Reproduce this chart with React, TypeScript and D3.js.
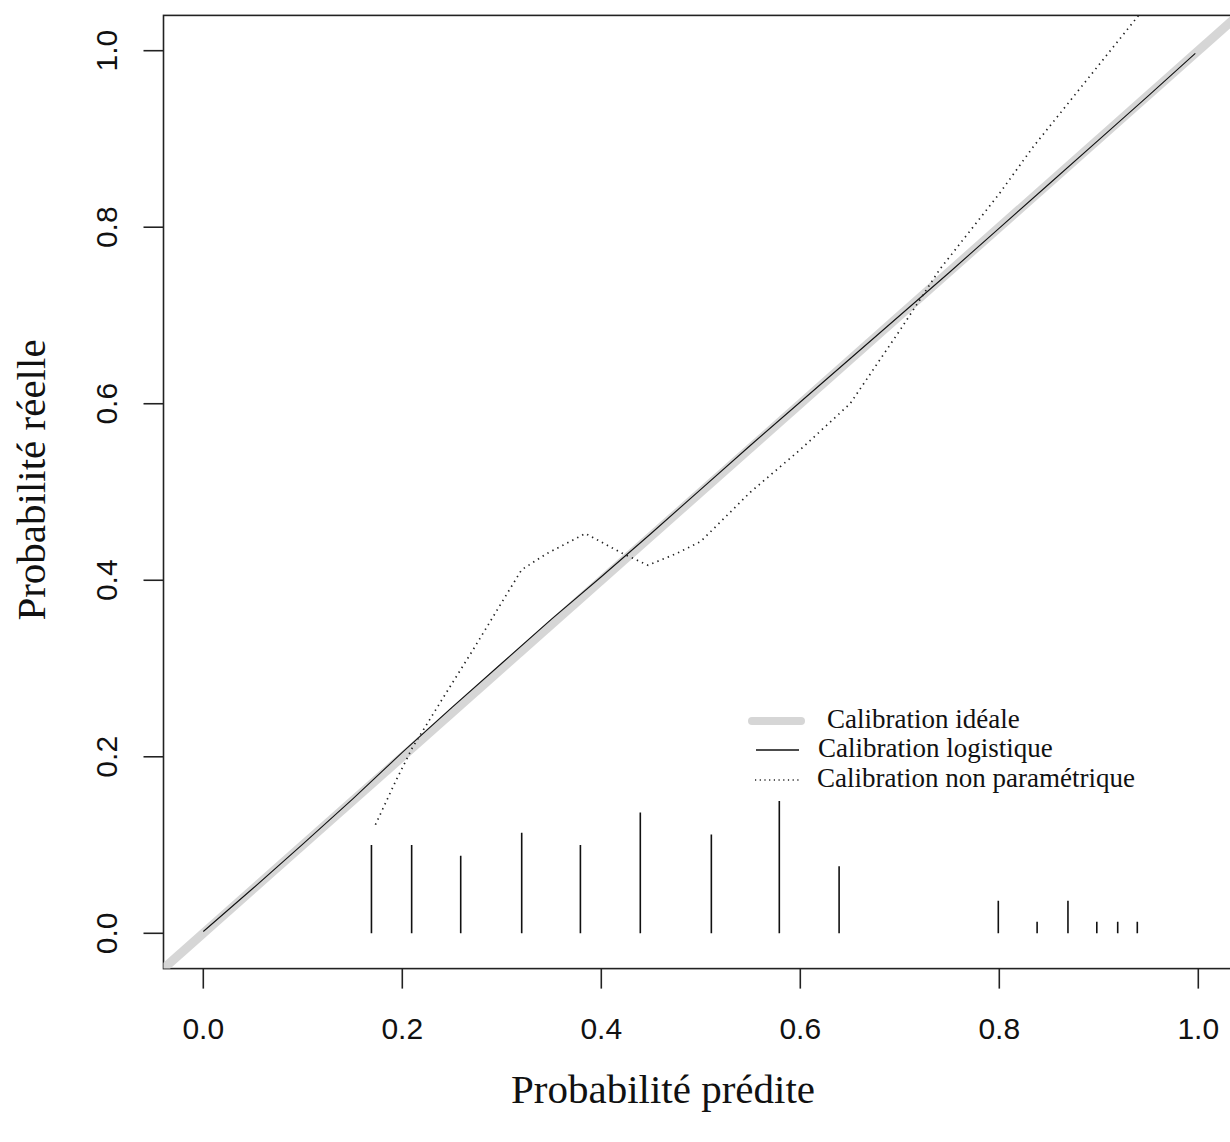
import React from "react";
import * as d3 from "d3";

const X_TICKS = [0, 0.2, 0.4, 0.6, 0.8, 1.0];
const Y_TICKS = [0, 0.2, 0.4, 0.6, 0.8, 1.0];

const IDEAL_X = [-0.1, 1.1];
const IDEAL_Y = [-0.1, 1.1];

const LOGISTIC_X = [0, 0.05, 0.1, 0.15, 0.2, 0.25, 0.3, 0.35, 0.4, 0.45, 0.5, 0.55, 0.6, 0.65, 0.7, 0.75, 0.8, 0.85, 0.9, 0.95, 0.997];
const LOGISTIC_Y = [0.002, 0.051, 0.101, 0.152, 0.205, 0.256, 0.306, 0.356, 0.404, 0.453, 0.503, 0.553, 0.602, 0.651, 0.7, 0.749, 0.799, 0.849, 0.899, 0.949, 0.997];

const NP_X = [0.173, 0.194, 0.21, 0.24, 0.271, 0.3, 0.32, 0.345, 0.384, 0.422, 0.447, 0.475, 0.5, 0.55, 0.6, 0.65, 0.7, 0.74, 0.8, 0.834, 0.94];
const NP_Y = [0.123, 0.174, 0.21, 0.265, 0.321, 0.375, 0.412, 0.43, 0.453, 0.43, 0.417, 0.43, 0.444, 0.5, 0.548, 0.6, 0.683, 0.752, 0.838, 0.891, 1.04];

const SPIKE_X = [0.169, 0.2094, 0.2587, 0.32, 0.379, 0.4392, 0.5106, 0.5789, 0.639, 0.799, 0.838, 0.869, 0.898, 0.919, 0.9387];
const SPIKE_H = [0.1, 0.1, 0.088, 0.114, 0.1, 0.137, 0.112, 0.15, 0.076, 0.037, 0.013, 0.037, 0.013, 0.013, 0.013];

const LEGEND_LABELS = ["Calibration idéale", "Calibration logistique", "Calibration non paramétrique"];
const X_TITLE = "Probabilité prédite";
const Y_TITLE = "Probabilité réelle";

const W = 1230;
const H = 1142;

export default function App() {
  const x = d3.scaleLinear().domain([0, 1]).range([203.3, 1198.3]);
  const y = d3.scaleLinear().domain([0, 1]).range([933.3, 50.7]);
  const x0 = x(-0.04), x1 = x(1.04);
  const y0 = y(-0.04), y1 = y(1.04);

  const line = d3.line<[number, number]>().x((d) => x(d[0])).y((d) => y(d[1]));
  const ideal = line(IDEAL_X.map((v, i) => [v, IDEAL_Y[i]]));
  const logi = line(LOGISTIC_X.map((v, i) => [v, LOGISTIC_Y[i]]));
  const np = line(NP_X.map((v, i) => [v, NP_Y[i]]));

  const sans = "'Liberation Sans', Arial, sans-serif";
  const serif = "'Liberation Serif', 'Times New Roman', serif";

  const legendY = [721, 750, 780];

  return (
    <svg width={W} height={H} style={{ position: "absolute", left: 0, top: 0, background: "#fff" }}>
      <defs>
        <clipPath id="plotclip">
          <rect x={x0} y={y1} width={x1 - x0} height={y0 - y1} />
        </clipPath>
      </defs>
      <rect x={0} y={0} width={W} height={H} fill="#fff" />
      <rect x={x0} y={y1} width={x1 - x0} height={y0 - y1} fill="none" stroke="#222" strokeWidth={1.6} />
      <g clipPath="url(#plotclip)">
        <path d={ideal || ""} fill="none" stroke="#d6d6d6" strokeWidth={9} />
        <path d={logi || ""} fill="none" stroke="#111" strokeWidth={1.1} />
        <path d={np || ""} fill="none" stroke="#222" strokeWidth={1.7} strokeDasharray="1.4 4.2" />
        {SPIKE_X.map((v, i) => (
          <line key={i} x1={x(v)} x2={x(v)} y1={y(0)} y2={y(SPIKE_H[i])} stroke="#111" strokeWidth={1.6} />
        ))}
      </g>
      {X_TICKS.map((t) => (
        <g key={"xt" + t}>
          <line x1={x(t)} x2={x(t)} y1={y0} y2={y0 + 20} stroke="#222" strokeWidth={1.6} />
          <text x={x(t)} y={1039} textAnchor="middle" fontFamily={sans} fontSize={30} fill="#111">
            {t.toFixed(1)}
          </text>
        </g>
      ))}
      {Y_TICKS.map((t) => (
        <g key={"yt" + t}>
          <line x1={x0 - 20} x2={x0} y1={y(t)} y2={y(t)} stroke="#222" strokeWidth={1.6} />
          <text
            transform={`translate(117,${y(t)}) rotate(-90)`}
            textAnchor="middle"
            fontFamily={sans}
            fontSize={30}
            fill="#111"
          >
            {t.toFixed(1)}
          </text>
        </g>
      ))}
      <text x={663} y={1103} textAnchor="middle" fontFamily={serif} fontSize={41} fill="#111">
        {X_TITLE}
      </text>
      <text transform={`translate(45,480) rotate(-90)`} textAnchor="middle" fontFamily={serif} fontSize={41} fill="#111">
        {Y_TITLE}
      </text>
      <line x1={752} x2={801} y1={legendY[0]} y2={legendY[0]} stroke="#d6d6d6" strokeWidth={8} strokeLinecap="round" />
      <line x1={756} x2={799} y1={legendY[1]} y2={legendY[1]} stroke="#111" strokeWidth={1.3} />
      <line x1={755} x2={800} y1={legendY[2]} y2={legendY[2]} stroke="#222" strokeWidth={1.3} strokeDasharray="1.2 3.5" />
      <text x={827} y={legendY[0] + 7} fontFamily={serif} fontSize={27} fill="#111">{LEGEND_LABELS[0]}</text>
      <text x={818} y={legendY[1] + 7} fontFamily={serif} fontSize={27} fill="#111">{LEGEND_LABELS[1]}</text>
      <text x={817} y={legendY[2] + 7} fontFamily={serif} fontSize={27} fill="#111">{LEGEND_LABELS[2]}</text>
    </svg>
  );
}
